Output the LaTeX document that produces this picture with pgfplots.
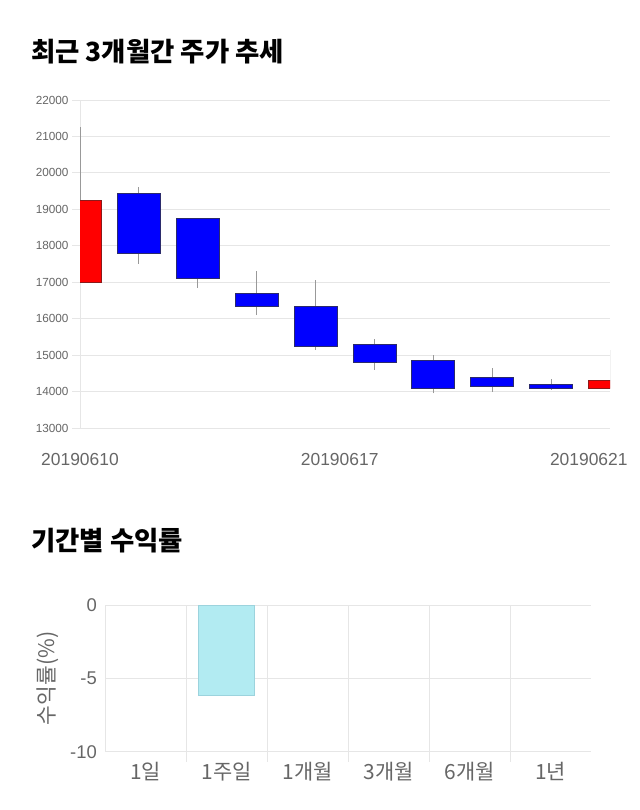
\documentclass[border=0pt]{standalone}
\usepackage{pgfplots}
\pgfplotsset{compat=1.18}
\usepackage{fontspec}
\setmainfont{Liberation Sans}
\newfontfamily\kr{Noto Sans CJK KR}
\definecolor{tickgray}{HTML}{666666}
\definecolor{gridgray}{HTML}{E6E6E6}
\definecolor{axgray}{HTML}{C4C4C4}
\definecolor{upred}{HTML}{FF0000}
\definecolor{downblue}{HTML}{0000FF}
\definecolor{rededge}{HTML}{8B1A1A}
\definecolor{blueedge}{HTML}{2B2B6B}
\definecolor{barcyan}{HTML}{B2EBF2}
\definecolor{barcyanedge}{HTML}{9CD3DD}
\definecolor{wick}{HTML}{999999}

\begin{document}
\begin{tikzpicture}
\useasboundingbox (0bp,0bp) rectangle (640bp,810bp);
\node[anchor=base west, inner sep=0, font=\kr\bfseries\fontsize{26.5}{30}\selectfont] at (31bp,748bp) {최근 3개월간 주가 추세};
\node[anchor=base west, inner sep=0, font=\kr\bfseries\fontsize{26.5}{30}\selectfont] at (31bp,259bp) {기간별 수익률};

% ---------------- candlestick chart ----------------
\begin{axis}[
  at={(80bp,382bp)}, anchor=south west,
  scale only axis, width=530bp, height=328bp,
  xmin=0, xmax=9, ymin=13000, ymax=22000,
  ytick={13000,14000,...,22000},
  scaled y ticks=false,
  xtick={0,4.41,8.64},
  xticklabels={20190610,20190617,20190621},
  ymajorgrids, grid style={gridgray, line width=0.8bp},
  axis lines*=left,
  axis line style={gridgray, line width=0.8bp, -},
  tick align=outside,
  major tick length=8bp,
  ytick style={gridgray, line width=0.8bp},
  xtick style={draw=none},
  /pgf/number format/assume math mode=true,
  /pgf/number format/1000 sep={},
  yticklabel style={font=\fontsize{11.8}{13}\selectfont, text=tickgray},
  xticklabel style={font=\fontsize{17.5}{20}\selectfont, text=tickgray, yshift=-14bp},
  clip=true,
]
% wicks (low -- high)
\addplot[wick, line width=1bp] coordinates {(0,17000) (0,21250)};
\addplot[wick, line width=1bp] coordinates {(1,17500) (1,19600)};
\addplot[wick, line width=1bp] coordinates {(2,16850) (2,18750)};
\addplot[wick, line width=1bp] coordinates {(3,16100) (3,17300)};
\addplot[wick, line width=1bp] coordinates {(4,15150) (4,17050)};
\addplot[wick, line width=1bp] coordinates {(5,14600) (5,15450)};
\addplot[wick, line width=1bp] coordinates {(6,13950) (6,15000)};
\addplot[wick, line width=1bp] coordinates {(7,14000) (7,14650)};
\addplot[wick, line width=1bp] coordinates {(8,14050) (8,14350)};
\addplot[wick, line width=1bp] coordinates {(9,14100) (9,15150)};
% bodies (open / close)
\addplot[fill=upred, draw=rededge, line width=0.8bp] coordinates {(-0.365,17000) (0.365,17000) (0.365,19250) (-0.365,19250)} -- cycle;
\addplot[fill=downblue, draw=blueedge, line width=0.8bp] coordinates {(0.635,19450) (1.365,19450) (1.365,17800) (0.635,17800)} -- cycle;
\addplot[fill=downblue, draw=blueedge, line width=0.8bp] coordinates {(1.635,18750) (2.365,18750) (2.365,17100) (1.635,17100)} -- cycle;
\addplot[fill=downblue, draw=blueedge, line width=0.8bp] coordinates {(2.635,16700) (3.365,16700) (3.365,16350) (2.635,16350)} -- cycle;
\addplot[fill=downblue, draw=blueedge, line width=0.8bp] coordinates {(3.635,16350) (4.365,16350) (4.365,15250) (3.635,15250)} -- cycle;
\addplot[fill=downblue, draw=blueedge, line width=0.8bp] coordinates {(4.635,15300) (5.365,15300) (5.365,14800) (4.635,14800)} -- cycle;
\addplot[fill=downblue, draw=blueedge, line width=0.8bp] coordinates {(5.635,14850) (6.365,14850) (6.365,14100) (5.635,14100)} -- cycle;
\addplot[fill=downblue, draw=blueedge, line width=0.8bp] coordinates {(6.635,14400) (7.365,14400) (7.365,14150) (6.635,14150)} -- cycle;
\addplot[fill=downblue, draw=blueedge, line width=0.8bp] coordinates {(7.635,14200) (8.365,14200) (8.365,14100) (7.635,14100)} -- cycle;
\addplot[fill=upred, draw=rededge, line width=0.8bp] coordinates {(8.635,14100) (9.365,14100) (9.365,14300) (8.635,14300)} -- cycle;
\end{axis}

% ---------------- period returns ----------------
\begin{axis}[
  at={(105.3bp,58.3bp)}, anchor=south west,
  scale only axis, width=485.7bp, height=146.7bp,
  xmin=-0.5, xmax=5.5, ymin=-10, ymax=0,
  xtick={0,1,2,3,4,5},
  xticklabels={1일,1주일,1개월,3개월,6개월,1년},
  minor xtick={0.5,1.5,2.5,3.5,4.5},
  xminorgrids, minor grid style={gridgray, line width=0.8bp},
  ytick={-5}, extra y ticks={-10,0},
  ymajorgrids, major grid style={gridgray, line width=0.8bp},
  extra y tick style={grid style={axgray, line width=0.8bp}},
  axis x line*=bottom, axis y line*=left,
  x axis line style={axgray, line width=0.8bp, -},
  y axis line style={gridgray, line width=0.8bp, -},
  tick align=outside,
  major tick length=0bp,
  minor tick length=10bp,
  minor tick style={gridgray, line width=0.8bp},
  /pgf/number format/assume math mode=true,
  yticklabel style={font=\fontsize{18.5}{20}\selectfont, text=tickgray, xshift=-5bp},
  xticklabel style={font=\kr\fontsize{21}{24}\selectfont, text=tickgray, yshift=-7bp},
  ylabel={수익률(\%)},
  ylabel style={font=\kr\fontsize{21.5}{24}\selectfont, text=tickgray, at={(rel axis cs:0,0.5)}, yshift=58bp, anchor=center},
]
\addplot[ybar, bar width=55.7bp, fill=barcyan, draw=barcyanedge, line width=0.8bp] coordinates {(1,-6.13)};
\end{axis}
\end{tikzpicture}
\end{document}
